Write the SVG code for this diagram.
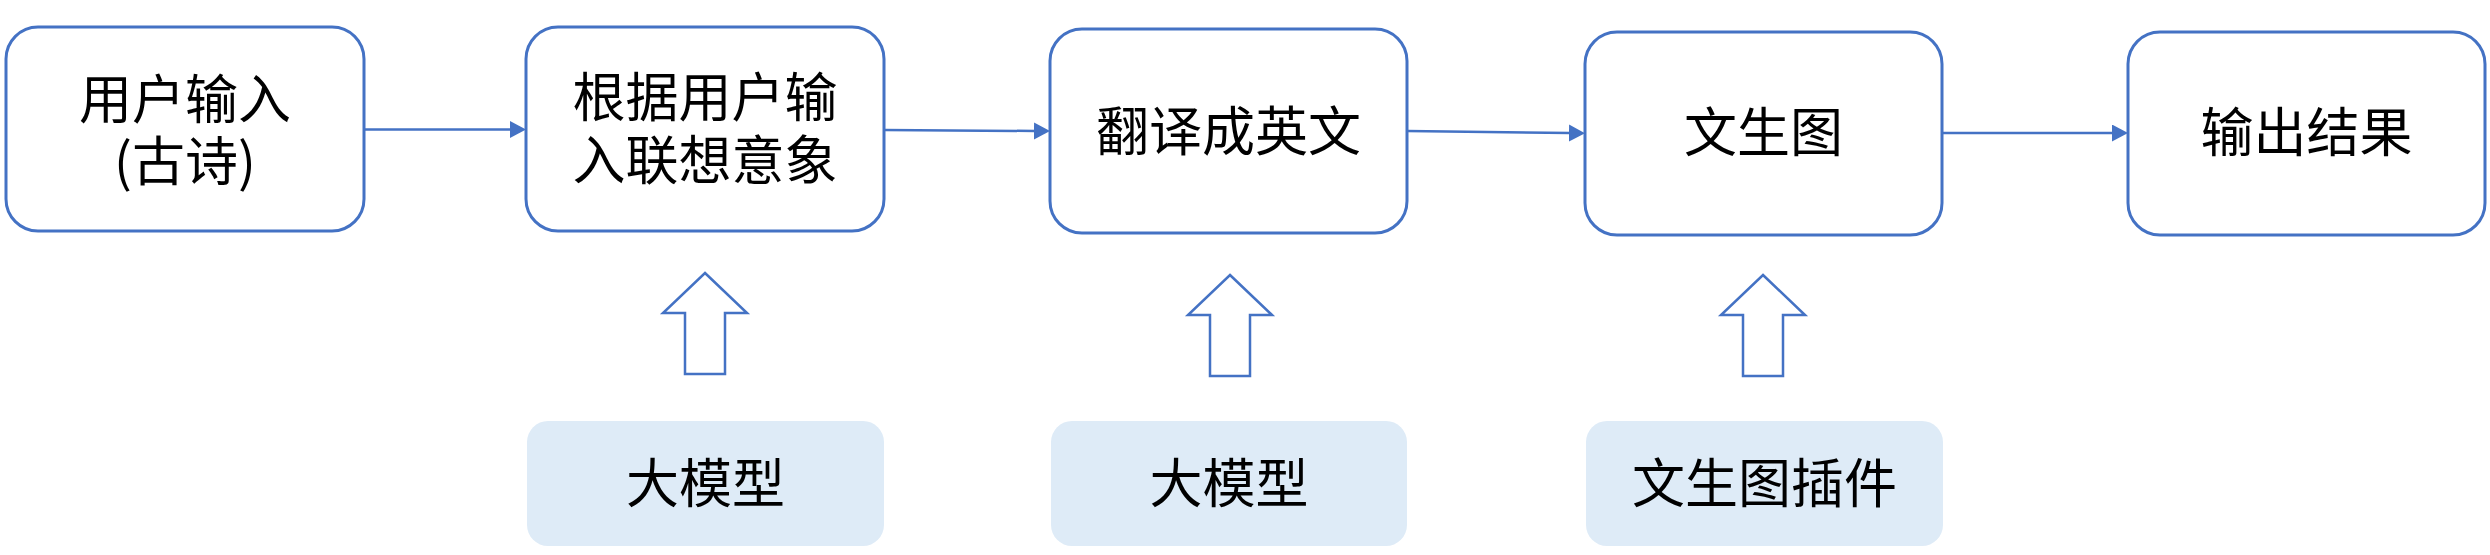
<svg xmlns="http://www.w3.org/2000/svg" width="2490" height="555" viewBox="0 0 2490 555">
<style>
.box{fill:#ffffff;stroke:#4472C4;stroke-width:3}
.sub{fill:#DEEBF7;stroke:none}
.blk{fill:#ffffff;stroke:#4472C4;stroke-width:2.5;stroke-linejoin:miter}
.t{font-family:"Noto Sans CJK SC","Microsoft YaHei",sans-serif;font-size:53px;fill:#000000;text-anchor:middle}
.c{stroke:#4472C4;stroke-width:2.5;fill:none}
</style>
<defs>
<marker id="ah" markerUnits="userSpaceOnUse" markerWidth="17" markerHeight="18" refX="1" refY="8.5" orient="auto">
<path d="M0,0 L16,8.5 L0,17 z" fill="#4472C4"/>
</marker>
</defs>
<rect width="2490" height="555" fill="#ffffff"/>
<g id="connectors">
<line class="c" x1="364" y1="129.5" x2="511" y2="129.5" marker-end="url(#ah)"/>
<line class="c" x1="884" y1="130" x2="1035" y2="131" marker-end="url(#ah)"/>
<line class="c" x1="1407" y1="131" x2="1570" y2="133" marker-end="url(#ah)"/>
<line class="c" x1="1942" y1="133" x2="2113" y2="133" marker-end="url(#ah)"/>
</g>
<g id="node-input">
<rect class="box" x="6" y="27" width="358" height="204" rx="32"/>
<text class="t" x="185" y="119"><tspan x="185" y="119">用户输入</tspan><tspan x="185" y="181">(古诗)</tspan></text>
</g>
<g id="node-imagery">
<rect class="box" x="526" y="27" width="358" height="204" rx="32"/>
<text class="t" x="705" y="117"><tspan x="705" y="117">根据用户输</tspan><tspan x="705" y="180">入联想意象</tspan></text>
</g>
<g id="node-translate">
<rect class="box" x="1050" y="29" width="357" height="204" rx="32"/>
<text class="t" x="1228.5" y="151">翻译成英文</text>
</g>
<g id="node-t2i">
<rect class="box" x="1585" y="32" width="357" height="203" rx="32"/>
<text class="t" x="1763.5" y="152">文生图</text>
</g>
<g id="node-output">
<rect class="box" x="2128" y="32" width="357" height="203" rx="32"/>
<text class="t" x="2306.5" y="152">输出结果</text>
</g>
<g id="blockarrow-1">
<polygon class="blk" points="705,273 747,313 725,313 725,374 685,374 685,313 663,313"/>
</g>
<g id="blockarrow-2">
<polygon class="blk" points="1230,275 1272,315 1250,315 1250,376 1210,376 1210,315 1188,315"/>
</g>
<g id="blockarrow-3">
<polygon class="blk" points="1763,275 1805,315 1783,315 1783,376 1743,376 1743,315 1721,315"/>
</g>
<g id="node-llm-1">
<rect class="sub" x="527" y="421" width="357" height="125" rx="21"/>
<text class="t" x="705.5" y="503">大模型</text>
</g>
<g id="node-llm-2">
<rect class="sub" x="1051" y="421" width="356" height="125" rx="21"/>
<text class="t" x="1229" y="503">大模型</text>
</g>
<g id="node-plugin">
<rect class="sub" x="1586" y="421" width="357" height="125" rx="21"/>
<text class="t" x="1764.5" y="503">文生图插件</text>
</g>
</svg>
